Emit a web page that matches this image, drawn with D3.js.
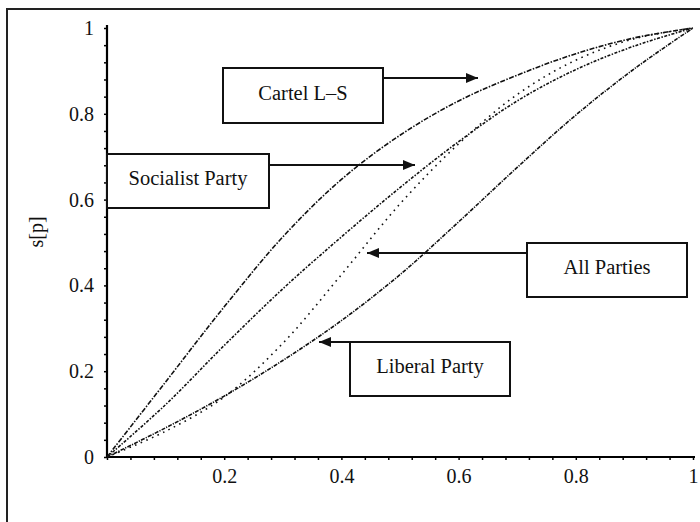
<!DOCTYPE html>
<html>
<head>
<meta charset="utf-8">
<script src="https://cdn.jsdelivr.net/npm/d3@7"></script>
<style>
  body { margin: 0; background: #fff; }
  svg { display: block; }
  text { font-family: "Liberation Serif", "DejaVu Serif", serif; fill: #111; }
</style>
</head>
<body>
<svg id="chart" width="700" height="522"></svg>
<script>
// values
var pShares = [0, 0.1, 0.2, 0.3, 0.4, 0.5, 0.6, 0.7, 0.8, 0.9, 1];
var cartelLS = [0, 0.175, 0.35, 0.513, 0.647, 0.75, 0.83, 0.89, 0.94, 0.977, 1];
var socialistParty = [0, 0.122, 0.26, 0.392, 0.513, 0.628, 0.735, 0.83, 0.903, 0.958, 1];
var allParties = [0, 0.06, 0.14, 0.265, 0.425, 0.59, 0.73, 0.845, 0.925, 0.975, 1];
var liberalParty = [0, 0.068, 0.142, 0.225, 0.318, 0.425, 0.548, 0.675, 0.797, 0.905, 1];

var seriesNames = ["Cartel L\u2013S", "Socialist Party", "All Parties", "Liberal Party"];
var xTickLabels = [0.2, 0.4, 0.6, 0.8, 1];
var yTickLabels = [0, 0.2, 0.4, 0.6, 0.8, 1];
var yTitle = "s[p]";

var svg = d3.select("#chart");

var x = d3.scaleLinear().domain([0, 1]).range([107, 693]);
var y = d3.scaleLinear().domain([0, 1]).range([457, 28]);

var minorTicks = d3.range(0, 1.0001, 0.04);

// outer frame (runs off the right and bottom edge)
svg.append("rect")
    .attr("x", 7).attr("y", 9)
    .attr("width", 720).attr("height", 540)
    .attr("fill", "none")
    .attr("stroke", "#222")
    .attr("stroke-width", 2);

// arrow head
svg.append("defs").append("marker")
    .attr("id", "head")
    .attr("viewBox", "0 0 12 10")
    .attr("refX", 12).attr("refY", 5)
    .attr("markerWidth", 12).attr("markerHeight", 10)
    .attr("markerUnits", "userSpaceOnUse")
    .attr("orient", "auto")
  .append("path")
    .attr("d", "M0,0 L12,5 L0,10 Z")
    .attr("fill", "#111");

//---AXES
var xAxis = svg.append("g")
    .attr("transform", "translate(0," + y(0) + ")")
    .call(d3.axisBottom(x).tickValues(minorTicks).tickSize(3).tickFormat(""));
xAxis.select(".domain").attr("d", "M" + (x(0) - 1) + ",0H" + (x(1) + 2)).attr("stroke-width", 2.2);
xAxis.selectAll(".tick line").attr("stroke-width", 1.5);

var xLabels = svg.append("g")
    .attr("transform", "translate(0," + y(0) + ")")
    .call(d3.axisBottom(x).tickValues(xTickLabels).tickSize(0).tickPadding(12)
        .tickFormat(function (d) { return String(d); }));
xLabels.select(".domain").remove();
xLabels.selectAll("text").attr("font-size", 20).attr("font-family", null).attr("fill", "#111");

var yAxis = svg.append("g")
    .attr("transform", "translate(" + x(0) + ",0)")
    .call(d3.axisLeft(y).tickValues(minorTicks).tickSize(3).tickFormat(""));
yAxis.select(".domain").attr("d", "M0," + (y(0) + 1) + "V" + (y(1) - 3)).attr("stroke-width", 2.2);
yAxis.selectAll(".tick line").attr("stroke-width", 1.5);

var yLabels = svg.append("g")
    .attr("transform", "translate(" + x(0) + ",0)")
    .call(d3.axisLeft(y).tickValues(yTickLabels).tickSize(0).tickPadding(13)
        .tickFormat(function (d) { return String(d); }));
yLabels.select(".domain").remove();
yLabels.selectAll("text").attr("font-size", 20).attr("font-family", null).attr("fill", "#111");

svg.append("text")
    .attr("transform", "translate(43,232) rotate(-90)")
    .attr("text-anchor", "middle")
    .attr("font-size", 20)
    .text(yTitle);

//---CURVES
var lineGen = d3.line()
    .x(function (d) { return x(d[0]); })
    .y(function (d) { return y(d[1]); })
    .curve(d3.curveCatmullRom.alpha(0.5));

var curves = [
    { vals: cartelLS, dash: "5,1.5,1.5,1.5" },
    { vals: socialistParty, dash: "3,1.5,1.5,1.5" },
    { vals: allParties, dash: "1.6,4.5" },
    { vals: liberalParty, dash: "4,1.2,1.2,1.2" }
];

svg.append("g").selectAll("path")
    .data(curves)
    .enter().append("path")
    .attr("d", function (c) { return lineGen(pShares.map(function (p, i) { return [p, c.vals[i]]; })); })
    .attr("fill", "none")
    .attr("stroke", "#111")
    .attr("stroke-width", 1.6)
    .attr("stroke-dasharray", function (c) { return c.dash; });

//---LABEL BOXES
var boxes = [
    { name: seriesNames[0], x0: 223, y0: 68, x1: 383, y1: 123, ax: 383, ay: 78, tip: 478 },
    { name: seriesNames[1], x0: 107, y0: 154, x1: 269, y1: 208, ax: 269, ay: 165, tip: 415 },
    { name: seriesNames[2], x0: 527, y0: 243, x1: 687, y1: 297, ax: 527, ay: 253, tip: 367 },
    { name: seriesNames[3], x0: 350, y0: 342, x1: 510, y1: 396, ax: 350, ay: 342, tip: 319 }
];

var g = svg.append("g").selectAll("g")
    .data(boxes)
    .enter().append("g");

g.append("line")
    .attr("x1", function (d) { return d.ax; })
    .attr("y1", function (d) { return d.ay; })
    .attr("x2", function (d) { return d.tip; })
    .attr("y2", function (d) { return d.ay; })
    .attr("stroke", "#111")
    .attr("stroke-width", 2)
    .attr("marker-end", "url(#head)");

g.append("rect")
    .attr("x", function (d) { return d.x0; })
    .attr("y", function (d) { return d.y0; })
    .attr("width", function (d) { return d.x1 - d.x0; })
    .attr("height", function (d) { return d.y1 - d.y0; })
    .attr("fill", "#fff")
    .attr("stroke", "#111")
    .attr("stroke-width", 2);

g.append("text")
    .attr("x", function (d) { return (d.x0 + d.x1) / 2; })
    .attr("y", function (d) { return (d.y0 + d.y1) / 2 + 4; })
    .attr("text-anchor", "middle")
    .attr("font-size", 20.5)
    .text(function (d) { return d.name; });
</script>
</body>
</html>
